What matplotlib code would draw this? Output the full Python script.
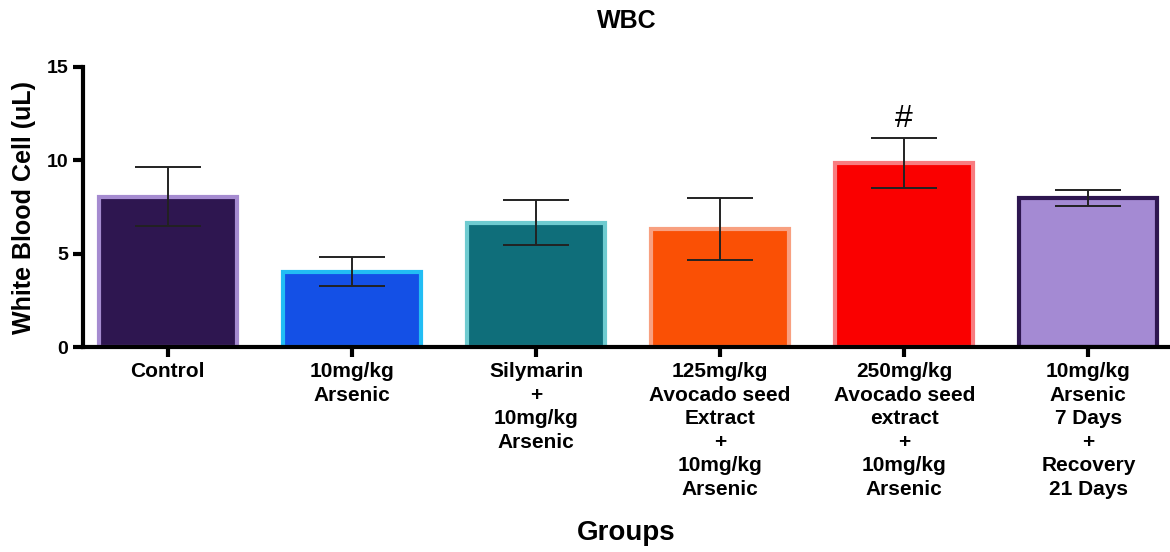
import matplotlib
matplotlib.use("Agg")
import matplotlib.pyplot as plt
import numpy as np

plt.rcParams["font.family"] = ["Liberation Sans", "DejaVu Sans"]
plt.rcParams["font.weight"] = "bold"

groups = [
    "Control",
    "10mg/kg\nArsenic",
    "Silymarin\n+\n10mg/kg\nArsenic",
    "125mg/kg\nAvocado seed\nExtract\n+\n10mg/kg\nArsenic",
    "250mg/kg\nAvocado seed\nextract\n+\n10mg/kg\nArsenic",
    "10mg/kg\nArsenic\n7 Days\n+\nRecovery\n21 Days",
]
means = [8.05, 4.03, 6.67, 6.33, 9.87, 7.97]
errors = [1.58, 0.78, 1.22, 1.65, 1.33, 0.42]
fills = ["#2E1650", "#1450E6", "#0F6E7A", "#FA5005", "#FA0000", "#A48AD3"]
edges = ["#A58BD0", "#22BDF4", "#6FCBD0", "#F8A080", "#F87C80", "#2E1650"]
marks = ["", "", "", "", "#", ""]

fig = plt.figure(figsize=(11.7, 5.52), dpi=100)
ax = fig.add_axes([0.071, 0.371, 0.93, 0.508])

x = np.arange(len(groups))
ax.bar(x, means, width=0.75, color=fills, edgecolor=edges, linewidth=3, zorder=2)
ax.errorbar(x, means, yerr=errors, fmt="none", ecolor="#222222", elinewidth=1.4,
            capsize=24, capthick=1.4, zorder=3)
for xi, m, e, s in zip(x, means, errors, marks):
    if s:
        ax.text(xi, m + e + 0.2, s, ha="center", va="bottom", fontsize=23, fontweight="normal")

ax.set_xlim(-0.46, 5.45)
ax.set_ylim(0, 15)
ax.set_yticks([0, 5, 10, 15])
ax.set_xticks(x)
ax.tick_params(axis="both", width=3, length=7)
ax.tick_params(axis="y", labelsize=14)
ax.tick_params(axis="x", pad=4)
ax.set_xticklabels(groups, fontsize=15, fontweight="bold", linespacing=1.3)
for lab in ax.get_yticklabels():
    lab.set_fontweight("bold")
for s in ["top", "right"]:
    ax.spines[s].set_visible(False)
for s in ["left", "bottom"]:
    ax.spines[s].set_linewidth(3)

ax.set_ylabel("White Blood Cell (uL)", fontsize=18, fontweight="bold", labelpad=8)
ax.set_title("WBC", fontsize=18, fontweight="bold", pad=28)
fig.text(0.535, 0.034, "Groups", ha="center", va="center", fontsize=20, fontweight="bold")

fig.savefig("out.png", dpi=100)
